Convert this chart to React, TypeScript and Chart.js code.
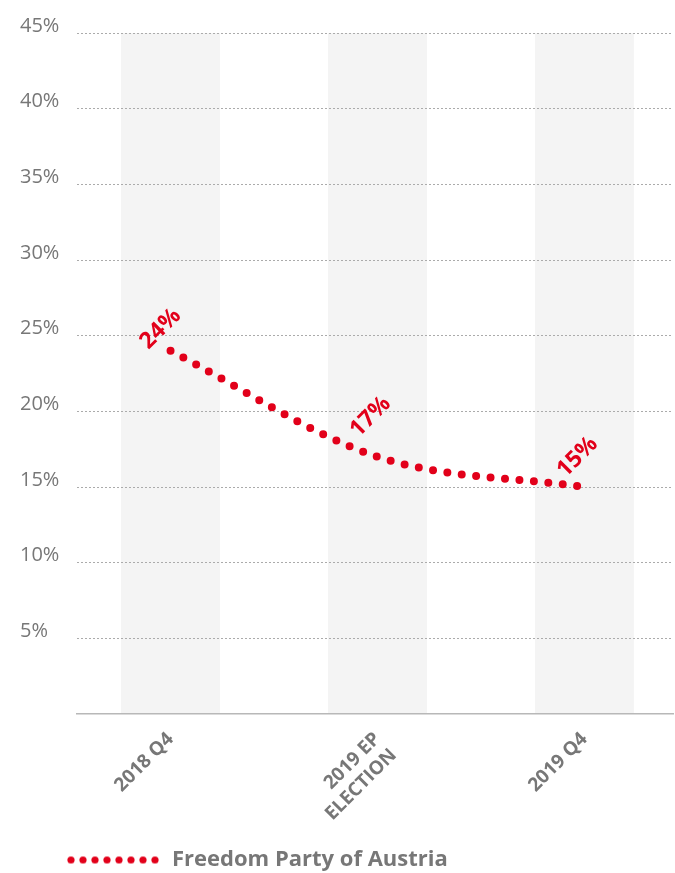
import React, { useEffect, useRef } from 'react';
import { Chart, registerables } from 'chart.js';

Chart.register(...registerables);

// ---- data ----
const CATEGORIES: (string | string[])[] = ['2018 Q4', ['2019 EP', 'ELECTION'], '2019 Q4'];
const VALUES: number[] = [24, 17, 15];
const VALUE_LABELS: string[] = ['24%', '17%', '15%'];
const SERIES_NAME = 'Freedom Party of Austria';
const Y_MIN = 0;
const Y_MAX = 45;
const Y_STEP = 5;

// ---- styles ----
const RED = '#e2001a';
const TEXT_GRAY = '#777777';
const GRID_GRAY = '#ababab';
const BAND_GRAY = '#f4f4f4';
const FONT = "'Open Sans', 'Noto Sans', sans-serif";
const LABEL_SHIFT: [number, number][] = [[-10, -22], [-7, -40], [-7, -30]];

function makeLegendDots(): HTMLCanvasElement {
  const c = document.createElement('canvas');
  c.width = 131;
  c.height = 9;
  const g = c.getContext('2d')!;
  g.fillStyle = RED;
  for (let i = 0; i < 8; i++) {
    g.beginPath();
    g.arc(41 + i * 12, 4.5, 3.6, 0, Math.PI * 2);
    g.fill();
  }
  return c;
}

const bandPlugin = {
  id: 'bands',
  beforeDraw(chart: any) {
    const { ctx, chartArea, scales } = chart;
    const x = scales.x;
    const step = x.getPixelForValue(1) - x.getPixelForValue(0);
    const w = step * 0.478;
    ctx.save();
    ctx.fillStyle = BAND_GRAY;
    CATEGORIES.forEach((_, i) => {
      const cx = x.getPixelForValue(i);
      ctx.fillRect(cx - w / 2, chartArea.top, w, chartArea.bottom - chartArea.top);
    });
    ctx.restore();
  },
};

const valueLabelPlugin = {
  id: 'valueLabels',
  afterDatasetsDraw(chart: any) {
    const { ctx } = chart;
    const meta = chart.getDatasetMeta(0);
    ctx.save();
    ctx.font = `bold 23px ${FONT}`;
    ctx.fillStyle = RED;
    ctx.textAlign = 'center';
    ctx.textBaseline = 'middle';
    meta.data.forEach((pt: any, i: number) => {
      const [dx, dy] = LABEL_SHIFT[i] || [0, -25];
      ctx.save();
      ctx.translate(pt.x + dx, pt.y + dy);
      ctx.rotate(-Math.PI / 4);
      ctx.fillText(VALUE_LABELS[i], 0, 0);
      ctx.restore();
    });
    ctx.restore();
  },
};

export default function App() {
  const ref = useRef<HTMLCanvasElement | null>(null);

  useEffect(() => {
    if (!ref.current) return;
    const dots = makeLegendDots();
    const chart = new Chart(ref.current, {
      type: 'line',
      data: {
        datasets: [
          {
            label: SERIES_NAME,
            data: VALUES.map((v, i) => ({ x: i, y: v })),
            borderColor: RED,
            backgroundColor: RED,
            borderWidth: 8,
            borderDash: [0, 14.5],
            borderCapStyle: 'round',
            cubicInterpolationMode: 'monotone',
            pointRadius: 0,
            pointHoverRadius: 0,
            fill: false,
          } as any,
        ],
      },
      options: {
        responsive: false,
        animation: false,
        devicePixelRatio: 1,
        events: [],
        layout: { padding: { left: 20, right: 2, top: 33, bottom: 0 } },
        scales: {
          x: {
            type: 'linear',
            min: -0.452,
            max: 2.428,
            afterBuildTicks: (s: any) => {
              s.ticks = CATEGORIES.map((_, i) => ({ value: i }));
            },
            afterFit: (s: any) => {
              s.height = 125;
            },
            grid: { display: false, drawTicks: false },
            border: { display: true, color: '#b8b8b8', width: 1.5 },
            ticks: {
              autoSkip: false,
              minRotation: 45,
              maxRotation: 45,
              padding: 14,
              color: TEXT_GRAY,
              font: { family: FONT, size: 19, weight: 'bold' },
              callback: (_v: any, i: number) => CATEGORIES[i],
            },
          },
          y: {
            min: Y_MIN,
            max: Y_MAX,
            afterFit: (s: any) => {
              s.width = 57;
            },
            grid: {
              drawTicks: false,
              color: (c: any) => (c.tick && c.tick.value === 0 ? 'rgba(0,0,0,0)' : GRID_GRAY),
              lineWidth: 1,
            },
            border: { display: false, dash: [2, 2] },
            ticks: {
              stepSize: Y_STEP,
              crossAlign: 'far',
              labelOffset: -7,
              color: TEXT_GRAY,
              font: { family: FONT, size: 20 },
              callback: (v: any) => (v === 0 ? '' : `${v}%`),
            },
          },
        },
        plugins: {
          tooltip: { enabled: false },
          legend: {
            display: true,
            position: 'bottom',
            align: 'start',
            labels: {
              usePointStyle: true,
              pointStyle: dots as any,
              pointStyleWidth: 131,
              padding: 10,
              color: TEXT_GRAY,
              font: { family: FONT, size: 22, weight: 'bold' },
            },
          },
        },
      } as any,
      plugins: [bandPlugin, valueLabelPlugin],
    });
    return () => chart.destroy();
  }, []);

  return (
    <div
      style={{
        position: 'fixed',
        left: 0,
        top: 0,
        width: 675,
        height: 873,
        overflow: 'hidden',
        background: '#fff',
      }}
    >
      <canvas ref={ref} width={675} height={881} style={{ display: 'block' }} />
    </div>
  );
}
